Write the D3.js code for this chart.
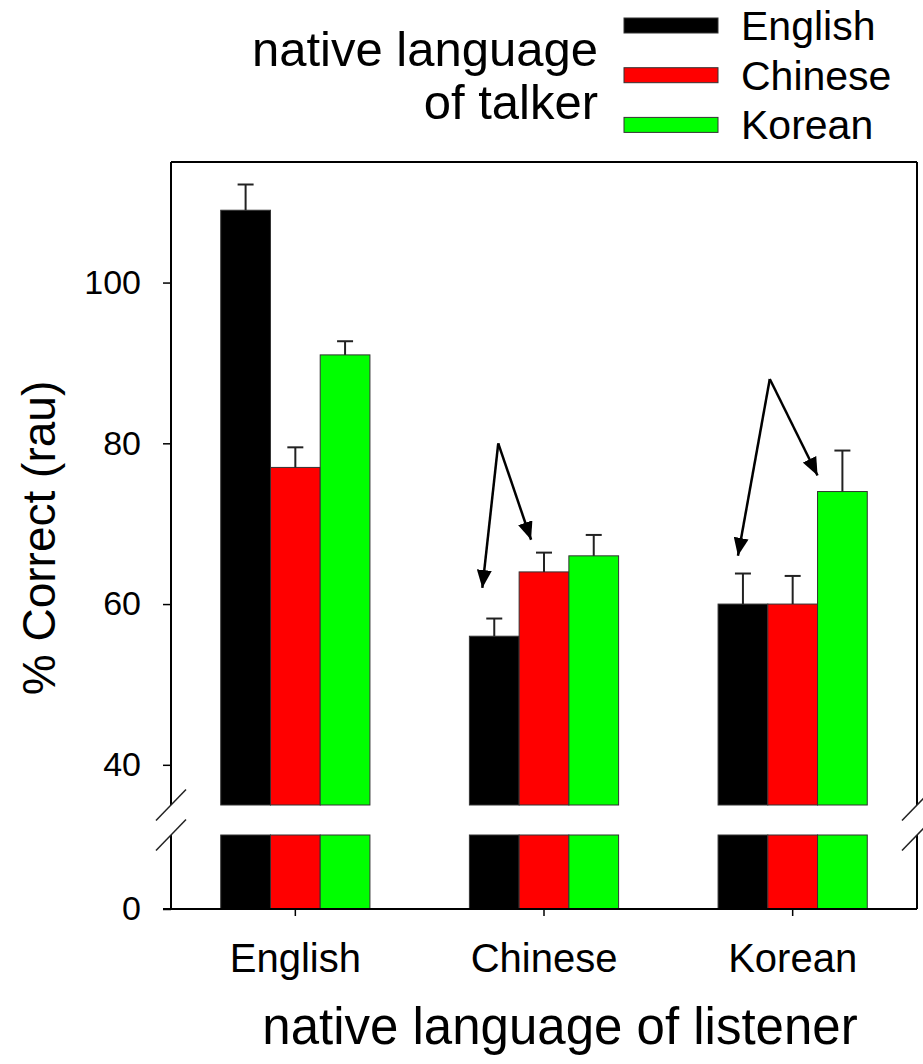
<!DOCTYPE html>
<html>
<head>
<meta charset="utf-8">
<script src="https://cdn.jsdelivr.net/npm/d3@7"></script>
<style>
  html, body { margin: 0; padding: 0; background: #fff; }
  svg { display: block; font-family: "Liberation Sans", Arial, Helvetica, sans-serif; }
</style>
</head>
<body>
<svg id="chart" width="923" height="1064"></svg>
<script>
// Listener groups (x axis) and talker series (bars within a group)
const listeners = ["English", "Chinese", "Korean"];
const talkers = ["English", "Chinese", "Korean"];

// % correct (rau) for each talker, one value per listener group
const englishTalker = [109, 56, 60];
const chineseTalker = [77, 64, 60];
const koreanTalker = [91, 66, 74];

// Standard errors (drawn upward only)
const englishTalkerErr = [3.2, 2.2, 3.8];
const chineseTalkerErr = [2.5, 2.4, 3.5];
const koreanTalkerErr = [1.7, 2.6, 5.1];

// Axis ticks: upper (broken) segment and lower segment
const upperTicks = [40, 60, 80, 100];
const lowerTicks = [0];

// Arrow annotations: apex value and the values where the heads point
const arrowGroups = ["Chinese", "Korean"];
const arrowApex = [80, 88];
const arrowLeftTip = [62, 66];
const arrowRightTip = [68, 76];

const seriesValues = [englishTalker, chineseTalker, koreanTalker];
const seriesErrors = [englishTalkerErr, chineseTalkerErr, koreanTalkerErr];
const colors = ["#000000", "#ff0000", "#00ff00"];

const rows = [];
listeners.forEach((g, gi) => {
  talkers.forEach((t, ti) => {
    rows.push({ listener: g, talker: t, value: seriesValues[ti][gi], err: seriesErrors[ti][gi], color: colors[ti] });
  });
});

const svg = d3.select("#chart");

// Frame geometry
const plotLeft = 171, plotRight = 917, plotTop = 162, plotBottom = 909;
const breakTop = 805, breakBottom = 835;

const x0 = d3.scaleBand().domain(listeners).range([plotLeft, plotRight]).paddingInner(0.4).paddingOuter(0.2);
const x1 = d3.scaleBand().domain(talkers).range([0, x0.bandwidth()]);
const yUp = d3.scaleLinear().domain([35, 115]).range([breakTop, plotTop]);
const yLow = d3.scaleLinear().domain([0, 10]).range([plotBottom, breakBottom]);

// Bars: upper segment and the lower stub below the break
const bars = svg.append("g");
bars.selectAll("rect.up").data(rows).join("rect")
  .attr("class", "up")
  .attr("x", d => x0(d.listener) + x1(d.talker))
  .attr("width", x1.bandwidth())
  .attr("y", d => yUp(d.value))
  .attr("height", d => yUp(35) - yUp(d.value))
  .attr("fill", d => d.color)
  .attr("stroke", "#333").attr("stroke-width", 1);
bars.selectAll("rect.low").data(rows).join("rect")
  .attr("class", "low")
  .attr("x", d => x0(d.listener) + x1(d.talker))
  .attr("width", x1.bandwidth())
  .attr("y", yLow(10))
  .attr("height", yLow(0) - yLow(10))
  .attr("fill", d => d.color)
  .attr("stroke", "#333").attr("stroke-width", 1);

// Error bars
const eb = svg.append("g").attr("stroke", "#222").attr("stroke-width", 2);
rows.forEach(d => {
  const cx = x0(d.listener) + x1(d.talker) + x1.bandwidth() / 2;
  eb.append("line").attr("x1", cx).attr("x2", cx).attr("y1", yUp(d.value)).attr("y2", yUp(d.value + d.err));
  eb.append("line").attr("x1", cx - 8).attr("x2", cx + 8).attr("y1", yUp(d.value + d.err)).attr("y2", yUp(d.value + d.err));
});

// Frame lines with the axis break
const frame = svg.append("g").attr("stroke", "#000").attr("stroke-width", 2).attr("fill", "none");
frame.append("line").attr("x1", plotLeft).attr("x2", plotRight).attr("y1", plotTop).attr("y2", plotTop);
[plotLeft, plotRight].forEach(xx => {
  frame.append("line").attr("x1", xx).attr("x2", xx).attr("y1", plotTop).attr("y2", breakTop);
  frame.append("line").attr("x1", xx).attr("x2", xx).attr("y1", breakBottom).attr("y2", plotBottom);
});
frame.append("line").attr("x1", plotLeft - 8).attr("x2", plotRight).attr("y1", plotBottom).attr("y2", plotBottom);

// Break marks
const brk = svg.append("g").attr("stroke", "#222").attr("stroke-width", 1.5);
[plotLeft, plotRight].forEach(xx => {
  [breakTop, breakBottom].forEach(yy => {
    brk.append("line").attr("x1", xx - 15).attr("y1", yy + 15.5).attr("x2", xx + 15).attr("y2", yy - 15.5);
  });
});

// Y axes (upper and lower segments)
const tickFont = 34;
const yAxisUp = svg.append("g").attr("transform", `translate(${plotLeft},0)`)
  .call(d3.axisLeft(yUp).tickValues(upperTicks).tickSize(8).tickPadding(22).tickFormat(d3.format("d")));
const yAxisLow = svg.append("g").attr("transform", `translate(${plotLeft},0)`)
  .call(d3.axisLeft(yLow).tickValues(lowerTicks).tickSize(8).tickPadding(22).tickFormat(d3.format("d")));
[yAxisUp, yAxisLow].forEach(a => {
  a.select(".domain").remove();
  a.selectAll(".tick line").attr("stroke", "#000").attr("stroke-width", 1.5);
  a.selectAll(".tick text").attr("font-size", tickFont).attr("fill", "#000")
    .attr("font-family", "Liberation Sans, Arial, sans-serif");
});

// X axis
const xAxis = svg.append("g").attr("transform", `translate(0,${plotBottom})`)
  .call(d3.axisBottom(x0).tickSize(7).tickPadding(28));
xAxis.select(".domain").remove();
xAxis.selectAll(".tick line").attr("stroke", "#000").attr("stroke-width", 1.5);
xAxis.selectAll(".tick text").attr("font-size", 40).attr("fill", "#000")
  .attr("font-family", "Liberation Sans, Arial, sans-serif");

// Axis titles
svg.append("text")
  .attr("transform", `translate(55,538) rotate(-90)`)
  .attr("text-anchor", "middle").attr("font-size", 46).attr("fill", "#000")
  .text("% Correct (rau)");
svg.append("text")
  .attr("x", 560).attr("y", 1044)
  .attr("text-anchor", "middle").attr("font-size", 51).attr("fill", "#000")
  .text("native language of listener");

// Legend
const legendTitle = svg.append("text").attr("text-anchor", "end").attr("font-size", 49).attr("fill", "#000");
legendTitle.append("tspan").attr("x", 598).attr("y", 66).text("native language");
legendTitle.append("tspan").attr("x", 598).attr("y", 119).text("of talker");

const legend = svg.append("g");
talkers.forEach((t, i) => {
  const cy = 25.5 + i * 49.7;
  legend.append("rect").attr("x", 624).attr("y", cy - 7.5).attr("width", 94).attr("height", 15)
    .attr("fill", colors[i]).attr("stroke", "#333").attr("stroke-width", 1);
  legend.append("text").attr("x", 741).attr("y", cy + 14.5).attr("font-size", 41).attr("fill", "#000").text(t);
});

// Arrows from an apex down to two bars
const defs = svg.append("defs");
defs.append("marker").attr("id", "head").attr("viewBox", "0 0 10 10")
  .attr("refX", 10).attr("refY", 5).attr("markerWidth", 18).attr("markerHeight", 15)
  .attr("markerUnits", "userSpaceOnUse").attr("orient", "auto").attr("preserveAspectRatio", "none")
  .append("path").attr("d", "M0,0 L10,5 L0,10 Z").attr("fill", "#000").attr("stroke", "none");

// horizontal placement of apex and tips, in bar widths from the group's left edge
const arrowLayout = [
  { apex: 0.58, leftTip: 0.26, rightTip: 1.24 },
  { apex: 1.04, leftTip: 0.40, rightTip: 2.0 }
];
const bw = x1.bandwidth();
const arrows = svg.append("g").attr("stroke", "#000").attr("stroke-width", 2.5).attr("fill", "none");
arrowGroups.forEach((g, i) => {
  const gx = x0(g);
  const L = arrowLayout[i];
  const ax = gx + L.apex * bw, ay = yUp(arrowApex[i]);
  arrows.append("line").attr("x1", ax).attr("y1", ay)
    .attr("x2", gx + L.leftTip * bw).attr("y2", yUp(arrowLeftTip[i])).attr("marker-end", "url(#head)");
  arrows.append("line").attr("x1", ax).attr("y1", ay)
    .attr("x2", gx + L.rightTip * bw).attr("y2", yUp(arrowRightTip[i])).attr("marker-end", "url(#head)");
});
</script>
</body>
</html>
